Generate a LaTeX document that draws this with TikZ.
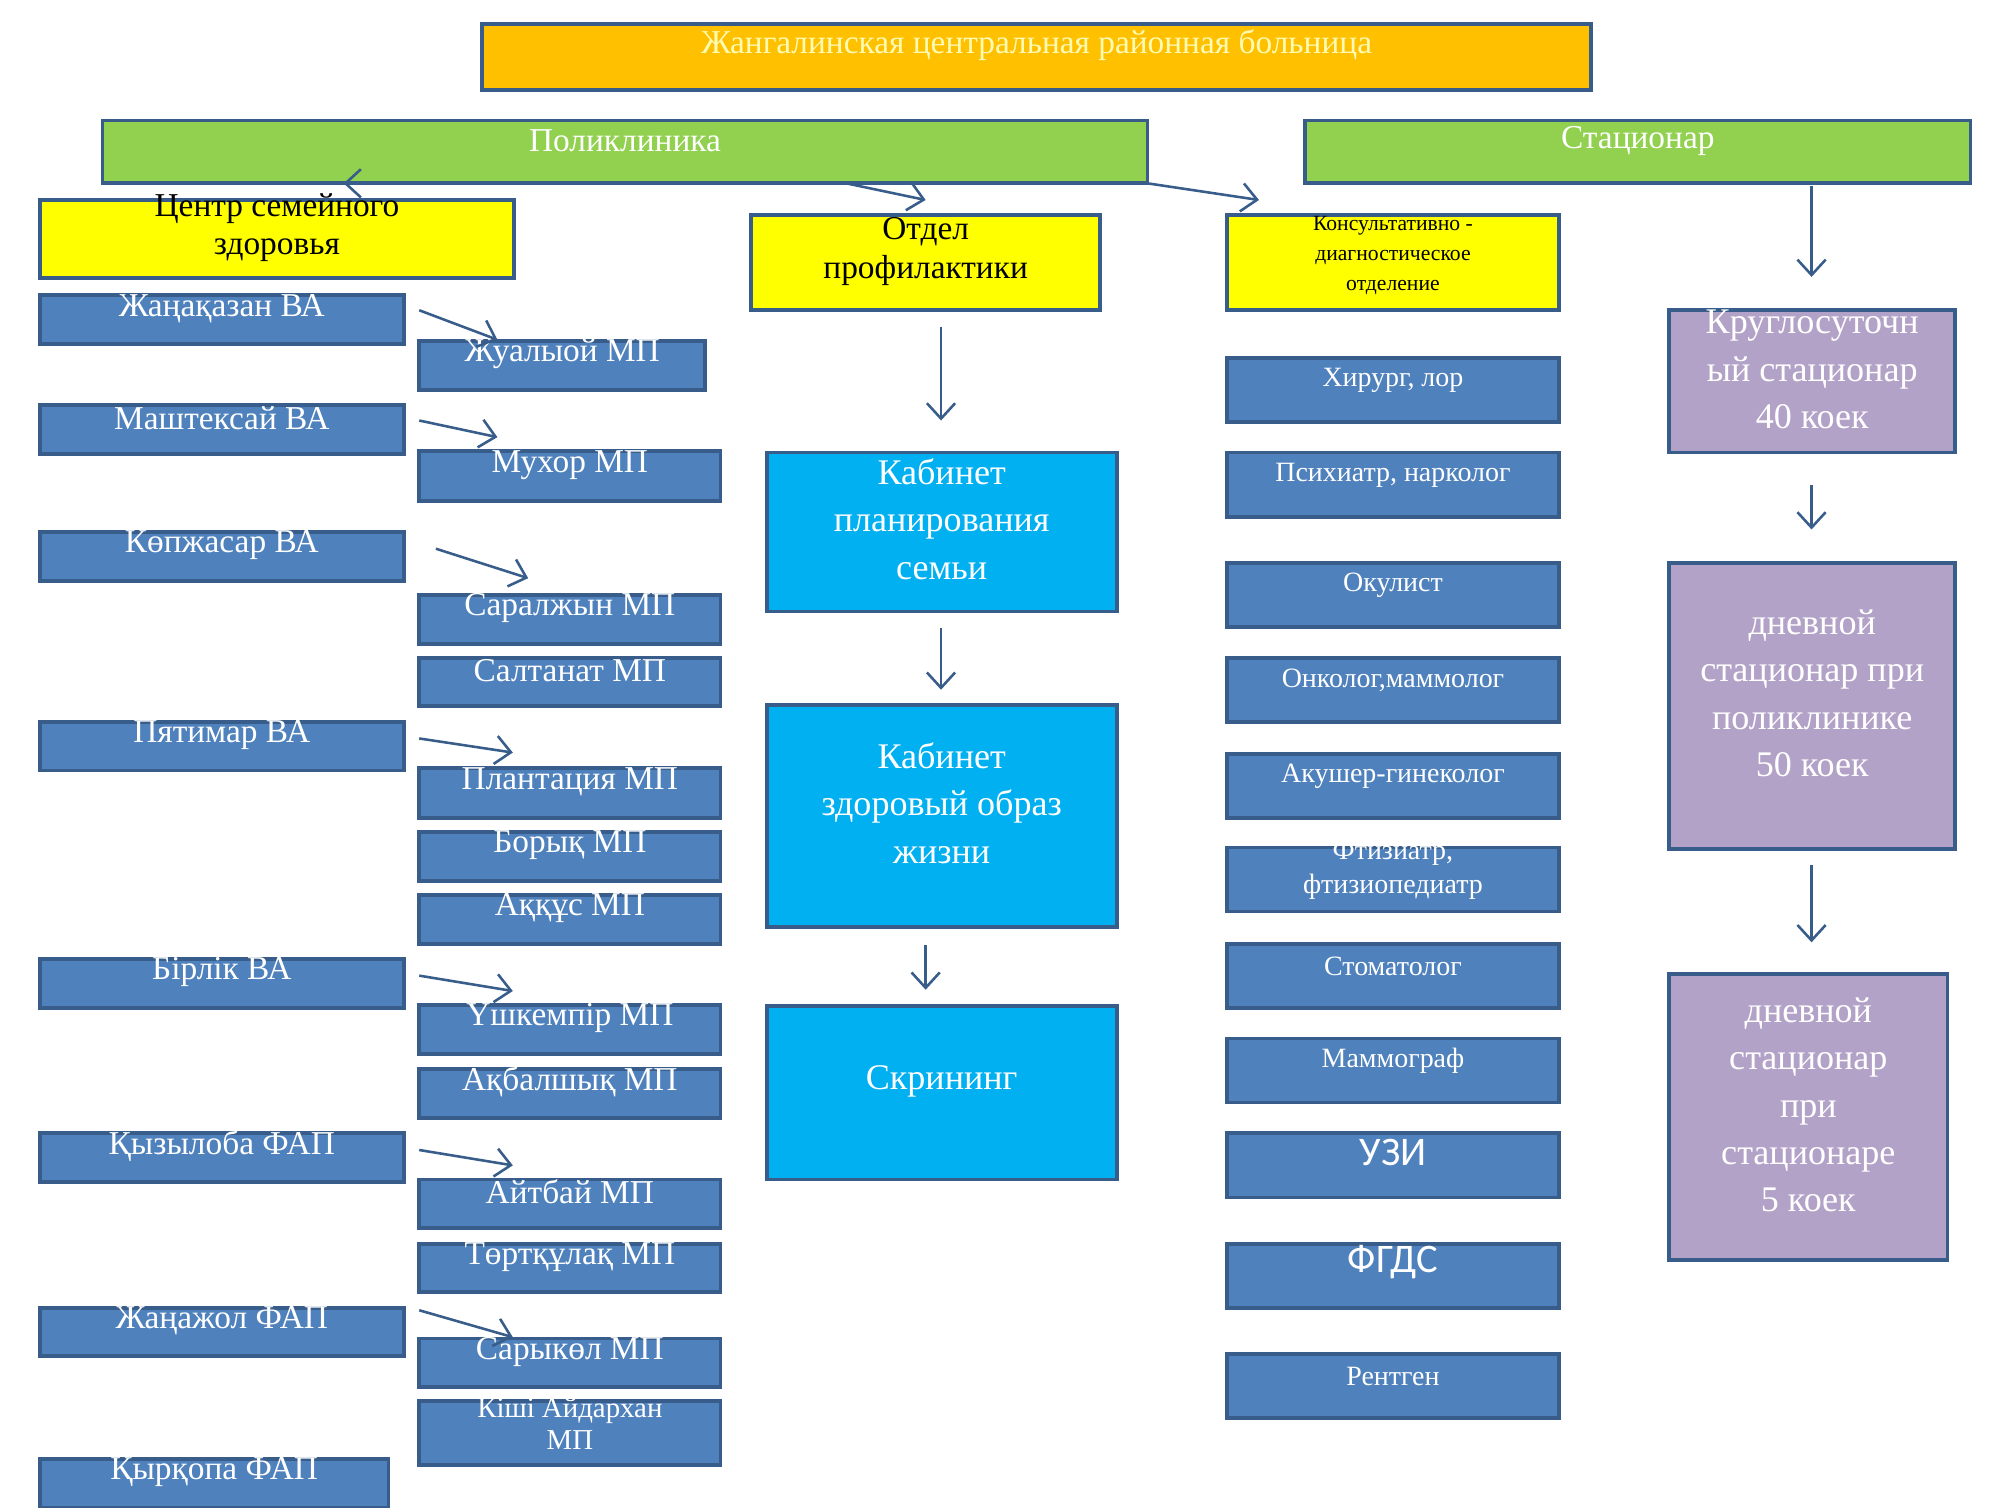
\documentclass[tikz,border=0pt]{standalone}
\usepackage{fontspec}
\setmainfont{Liberation Serif}
\newfontfamily\sansf{Carlito}
\usetikzlibrary{fit,arrows.meta}
\definecolor{bord}{HTML}{385D8A}
\definecolor{bbox}{HTML}{4F81BD}
\definecolor{cyanb}{HTML}{00B0F0}
\definecolor{purp}{HTML}{B3A2C7}
\definecolor{grn}{HTML}{92D050}
\definecolor{orng}{HTML}{FFC000}
\definecolor{yel}{HTML}{FFFF00}
\begin{document}
\begin{tikzpicture}[x=0.01cm,y=-0.01cm,
 box/.style={draw=bord,line width=0.03cm,inner sep=0pt,align=center,text=white,font=\fontsize{7.4}{8.6}\selectfont},
 bl/.style={box,fill=bbox},
 rc/.style={box,fill=bbox,font=\fontsize{6.2}{7.4}\selectfont},
 yb/.style={box,fill=yel,text=black},
 cy/.style={box,fill=cyanb,font=\fontsize{8}{10.5}\selectfont},
 pu/.style={box,fill=purp,font=\fontsize{8}{10.5}\selectfont},
 ar/.style={draw=bord,line width=0.02cm,-{Straight Barb[length=0.12cm,width=0.22cm]}}]
\useasboundingbox (0,0) rectangle (1560,1176);
\newcommand\bx[7]{\node[#6,fit={(#2,#3)(#4,#5)}] (#1) {#7};}
\bx{t}{376}{19}{1241}{70}{box,fill=orng,text=yellow!30}{Жангалинская центральная районная больница}
\bx{pol}{80}{94}{895}{143}{box,fill=grn}{Поликлиника}
\bx{st}{1018}{94}{1537}{143}{box,fill=grn}{Стационар}
\bx{csz}{31}{156}{401}{217}{yb}{Центр семейного\\здоровья}
\bx{op}{586}{168}{858}{242}{yb}{Отдел\\профилактики}
\bx{kd}{957}{168}{1216}{242}{yb,font=\fontsize{4.8}{6.6}\selectfont}{Консультативно -\\диагностическое\\отделение}
% VA
\bx{v1}{31}{230}{315}{268}{bl}{Жаңақазан ВА}
\bx{v2}{31}{316}{315}{354}{bl}{Маштексай ВА}
\bx{v3}{31}{415}{315}{453}{bl}{Көпжасар ВА}
\bx{v4}{31}{563}{315}{601}{bl}{Пятимар ВА}
\bx{v5}{31}{748}{315}{786}{bl}{Бірлік ВА}
\bx{v6}{31}{884}{315}{922}{bl}{Қызылоба ФАП}
\bx{v7}{31}{1020}{315}{1058}{bl}{Жаңажол ФАП}
\bx{v8}{31}{1138}{303}{1176}{bl}{Қырқопа ФАП}
% MP
\bx{m1}{327}{266}{550}{304}{bl}{Жуалыой МП}
\bx{m2}{327}{352}{562}{391}{bl}{Мухор МП}
\bx{m3}{327}{464}{562}{502}{bl}{Саралжын МП}
\bx{m4}{327}{513}{562}{551}{bl}{Салтанат МП}
\bx{m5}{327}{599}{562}{638}{bl}{Плантация МП}
\bx{m6}{327}{649}{562}{687}{bl}{Борық МП}
\bx{m7}{327}{698}{562}{736}{bl}{Аққұс МП}
\bx{m8}{327}{784}{562}{822}{bl}{Үшкемпір МП}
\bx{m9}{327}{834}{562}{872}{bl}{Ақбалшық МП}
\bx{m10}{327}{920}{562}{958}{bl}{Айтбай МП}
\bx{m11}{327}{970}{562}{1008}{bl}{Төртқұлақ МП}
\bx{m12}{327}{1044}{562}{1082}{bl}{Сарыкөл МП}
\bx{m13}{327}{1093}{562}{1143}{bl,font=\fontsize{6.4}{7}\selectfont}{Кіші Айдархан\\МП}
% middle
\bx{k1}{598}{353}{871}{477}{cy}{Кабинет\\планирования\\семьи}
\bx{k2}{598}{550}{871}{723}{cy}{Кабинет\\здоровый образ\\жизни}
\bx{k3}{598}{785}{871}{920}{cy}{Скрининг}
% right col
\bx{r1}{957}{279}{1216}{329}{rc}{Хирург, лор}
\bx{r2}{957}{353}{1216}{403}{rc}{Психиатр, нарколог}
\bx{r3}{957}{439}{1216}{489}{rc}{Окулист}
\bx{r4}{957}{513}{1216}{563}{rc}{Онколог,маммолог}
\bx{r5}{957}{588}{1216}{638}{rc}{Акушер-гинеколог}
\bx{r6}{957}{661}{1216}{711}{rc}{Фтизиатр,\\фтизиопедиатр}
\bx{r7}{957}{736}{1216}{786}{rc}{Стоматолог}
\bx{r8}{957}{810}{1216}{860}{rc}{Маммограф}
\bx{r9}{957}{884}{1216}{934}{rc,font=\sansf\fontsize{9}{10}\selectfont}{УЗИ}
\bx{r10}{957}{970}{1216}{1020}{rc,font=\sansf\fontsize{9}{10}\selectfont}{ФГДС}
\bx{r11}{957}{1056}{1216}{1106}{rc}{Рентген}
% purple
\bx{p1}{1302}{242}{1525}{353}{pu}{Круглосуточн\\ый стационар\\40 коек}
\bx{p2}{1302}{439}{1525}{662}{pu}{дневной\\стационар при\\поликлинике\\50 коек}
\bx{p3}{1302}{760}{1519}{983}{pu}{дневной\\стационар\\при\\стационаре\\5 коек}
% arrows
\draw[ar] (315,143) -- (268,143);
\draw[ar] (660,143) -- (722,156);
\draw[ar] (895,143) -- (982,156);
\draw[ar] (327,242) -- (388,265);
\draw[ar] (327,328) -- (388,341);
\draw[ar] (340,428) -- (412,451);
\draw[ar] (327,576) -- (400,587);
\draw[ar] (327,761) -- (400,773);
\draw[ar] (327,897) -- (400,909);
\draw[ar] (327,1022) -- (400,1043);
\draw[ar] (734,255) -- (734,328);
\draw[ar] (734,490) -- (734,538);
\draw[ar] (722,737) -- (722,772);
\draw[ar] (1413,145) -- (1413,216);
\draw[ar] (1413,378) -- (1413,413);
\draw[ar] (1413,675) -- (1413,735);
\end{tikzpicture}
\end{document}
